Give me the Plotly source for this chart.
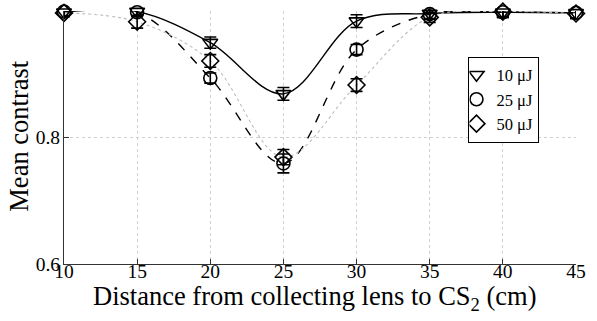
import plotly.graph_objects as go

# Distance from collecting lens to CS2 (cm)
distance = [10, 15, 20, 25, 30, 35, 40, 45]

# Mean contrast per pump energy
contrast_10uJ = [0.998, 0.999, 0.950, 0.869, 0.984, 0.996, 0.998, 0.997]
contrast_25uJ = [0.999, 0.998, 0.894, 0.759, 0.939, 0.995, 0.998, 0.997]
contrast_50uJ = [0.997, 0.983, 0.921, 0.769, 0.883, 0.990, 0.999, 0.996]

# Error bar half-heights
err_10uJ = [0.006, 0.006, 0.009, 0.010, 0.010, 0.008, 0.008, 0.008]
err_25uJ = [0.006, 0.007, 0.008, 0.015, 0.008, 0.008, 0.008, 0.008]
err_50uJ = [0.006, 0.010, 0.010, 0.012, 0.010, 0.008, 0.008, 0.008]

series_names = ["10 μJ", "25 μJ", "50 μJ"]
x_ticks = [10, 15, 20, 25, 30, 35, 40, 45]
y_ticks = [0.6, 0.8, 1.0]
y_ticktext = ["0.6", "0.8", ""]

FONT = "Times New Roman"

series = [
    (series_names[0], contrast_10uJ, err_10uJ, "triangle-down-open", dict(color="black", width=1.4, dash="solid")),
    (series_names[1], contrast_25uJ, err_25uJ, "circle-open", dict(color="black", width=1.4, dash="dash")),
    (series_names[2], contrast_50uJ, err_50uJ, "diamond-open", dict(color="#bdbdbd", width=1.1, dash="dot")),
]

fig = go.Figure()

# smooth guide curves
for name, y, e, sym, line in series:
    fig.add_trace(go.Scatter(
        x=distance, y=y, mode="lines", line=dict(shape="spline", smoothing=1.0, **line),
        showlegend=False, hoverinfo="skip", cliponaxis=False,
    ))

# measured points with error bars
for name, y, e, sym, line in series:
    fig.add_trace(go.Scatter(
        x=distance, y=y, mode="markers", name=name,
        marker=dict(symbol=sym, size=13, color="black", line=dict(width=1.6, color="black")),
        error_y=dict(type="data", array=e, visible=True, color="black", thickness=1.6, width=6),
        cliponaxis=False,
    ))

fig.update_layout(
    width=597, height=321,
    margin=dict(l=64, r=13, t=11, b=57),
    paper_bgcolor="white", plot_bgcolor="white",
    font=dict(family=FONT, color="black", size=19),
    showlegend=True,
    legend=dict(
        x=0.79, y=0.82, xanchor="left", yanchor="top",
        bgcolor="white", bordercolor="black", borderwidth=1,
        font=dict(family=FONT, size=16.5, color="black"),
        tracegroupgap=0, itemwidth=30, indentation=-13,
    ),
    annotations=[
        dict(text="Distance from collecting lens to CS<sub>2</sub> (cm)",
             xref="paper", yref="paper", x=0.49, y=-0.136,
             xanchor="center", yanchor="middle", showarrow=False,
             font=dict(family=FONT, size=26.5, color="black")),
        dict(text="Mean contrast", textangle=-90,
             xref="paper", yref="paper", x=-0.087, y=0.505,
             xanchor="center", yanchor="middle", showarrow=False,
             font=dict(family=FONT, size=26.5, color="black")),
    ],
)

fig.update_xaxes(
    range=[10, 45], tickvals=x_ticks, ticktext=[str(v) for v in x_ticks],
    showline=True, linecolor="#333333", linewidth=1.2, mirror=False,
    ticks="inside", ticklen=5, tickcolor="#333333",
    showgrid=True, gridcolor="#d0d0d0", griddash="dot", gridwidth=1,
    zeroline=False, ticklabelstandoff=-11,
    tickfont=dict(family=FONT, size=19.5, color="black"),
)
fig.update_yaxes(
    range=[0.6, 1.0], tickvals=y_ticks, ticktext=y_ticktext,
    showline=True, linecolor="#333333", linewidth=1.2, mirror=False,
    ticks="inside", ticklen=5, tickcolor="#333333",
    showgrid=True, gridcolor="#d0d0d0", griddash="dot", gridwidth=1,
    zeroline=False, ticklabelstandoff=-1,
    tickfont=dict(family=FONT, size=19.5, color="black"),
)

fig.write_html("out.html")
